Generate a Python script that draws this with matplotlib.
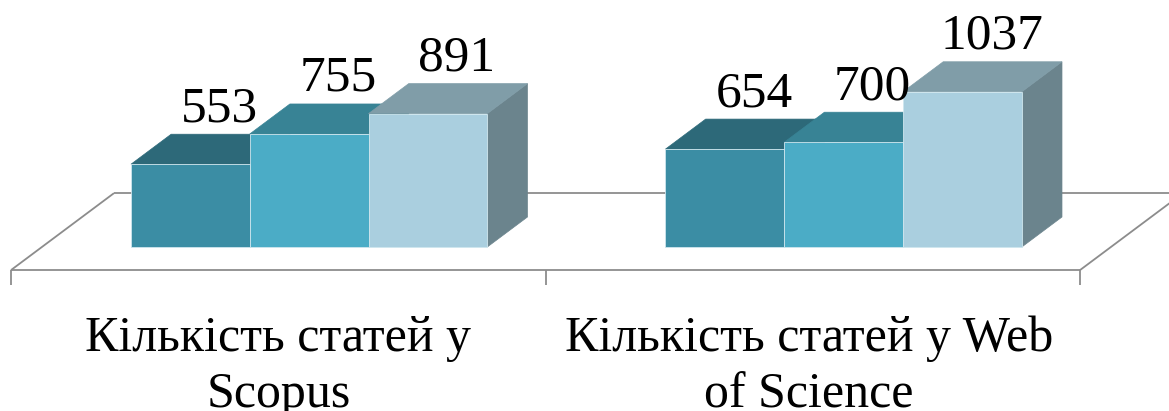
"""3D-style clustered bar chart: article counts in Scopus / Web of Science."""

import matplotlib.pyplot as plt
from matplotlib.patches import Polygon

plt.switch_backend("Agg")

# Data
categories = ["Кількість статей у\nScopus", "Кількість статей у Web\nof Science"]
series_1 = [553, 654]
series_2 = [755, 700]
series_3 = [891, 1037]
series = [series_1, series_2, series_3]

# Face colours per series: front, top, right side
front_colors = ["#3B8DA4", "#4BACC6", "#AACFDF"]
top_colors = ["#2D6979", "#388395", "#809DA8"]
side_colors = ["#2A6271", "#357C8C", "#6B848D"]

# Oblique projection: depth d in [0, 1] from the front of the floor
DX = 0.1927  # category units per unit depth
DY = 514.0   # value units per unit depth
D0, D1 = 0.30, 0.69
FLOOR_Y = -D0 * DY

FONT = "Liberation Serif"
PX = 0.72  # points per pixel at dpi 100


def proj(x, v, d):
    return (x + d * DX, v + FLOOR_Y + d * DY)


fig = plt.figure(figsize=(11.69, 4.11), dpi=100)
ax = fig.add_axes([0, 0, 1, 1])
ax.set_xlim(-11 / 534.5, 1158 / 534.5)
ax.set_ylim(-1095.5, 1650)
ax.axis("off")

# Floor outline
n = len(categories)
line_kw = dict(color="#8C8C8C", linewidth=1.3, zorder=1, solid_capstyle="butt")
for a, b in [((0, 0, 0), (n, 0, 0)), ((0, 0, 0), (0, 0, 1)),
             ((0, 0, 1), (n, 0, 1)), ((n, 0, 0), (n, 0, 1))]:
    p, q = proj(*a), proj(*b)
    ax.plot([p[0], q[0]], [p[1], q[1]], **line_kw)
for i in range(n + 1):
    p = proj(i, 0, 0)
    ax.plot([p[0], p[0]], [p[1], p[1] - 100], **line_kw)

# Bars
group_w = 2 / 3
bar_w = group_w / len(series)
for i in range(n):
    for j, vals in enumerate(series):
        v = vals[i]
        x0 = i + (1 - group_w) / 2 + j * bar_w
        x1 = x0 + bar_w
        front = [proj(x0, 0, D0), proj(x1, 0, D0), proj(x1, v, D0), proj(x0, v, D0)]
        top = [proj(x0, v, D0), proj(x1, v, D0), proj(x1, v, D1), proj(x0, v, D1)]
        side = [proj(x1, 0, D0), proj(x1, 0, D1), proj(x1, v, D1), proj(x1, v, D0)]
        z = 2 + i * 3 + j
        ax.add_patch(Polygon(side, closed=True, facecolor=side_colors[j],
                             edgecolor=side_colors[j], linewidth=0.5, zorder=z))
        ax.add_patch(Polygon(top, closed=True, facecolor=top_colors[j],
                             edgecolor=top_colors[j], linewidth=0.5, zorder=z))
        ax.add_patch(Polygon(front, closed=True, facecolor=front_colors[j],
                             edgecolor="#CFE6EE", linewidth=0.6, zorder=z))

        # Value label above the top face
        cx, cy = proj((x0 + x1) / 2, v, (D0 + D1) / 2)
        ax.annotate(str(v), xy=(cx, cy), xytext=(9 * PX, 28 * PX),
                    textcoords="offset points", ha="center", va="baseline",
                    fontsize=37, family=FONT, color="black", zorder=20)

# Category labels under the floor
for i, label in enumerate(categories):
    for k, line in enumerate(label.split("\n")):
        ax.annotate(line, xy=proj(i + 0.5, 0, 0),
                    xytext=(-4 * i * PX, -(81 + 56 * k) * PX),
                    textcoords="offset points",
                    ha="center", va="baseline", fontsize=36, family=FONT,
                    color="black", annotation_clip=False)

fig.savefig("out.png", dpi=100)
plt.close(fig)
